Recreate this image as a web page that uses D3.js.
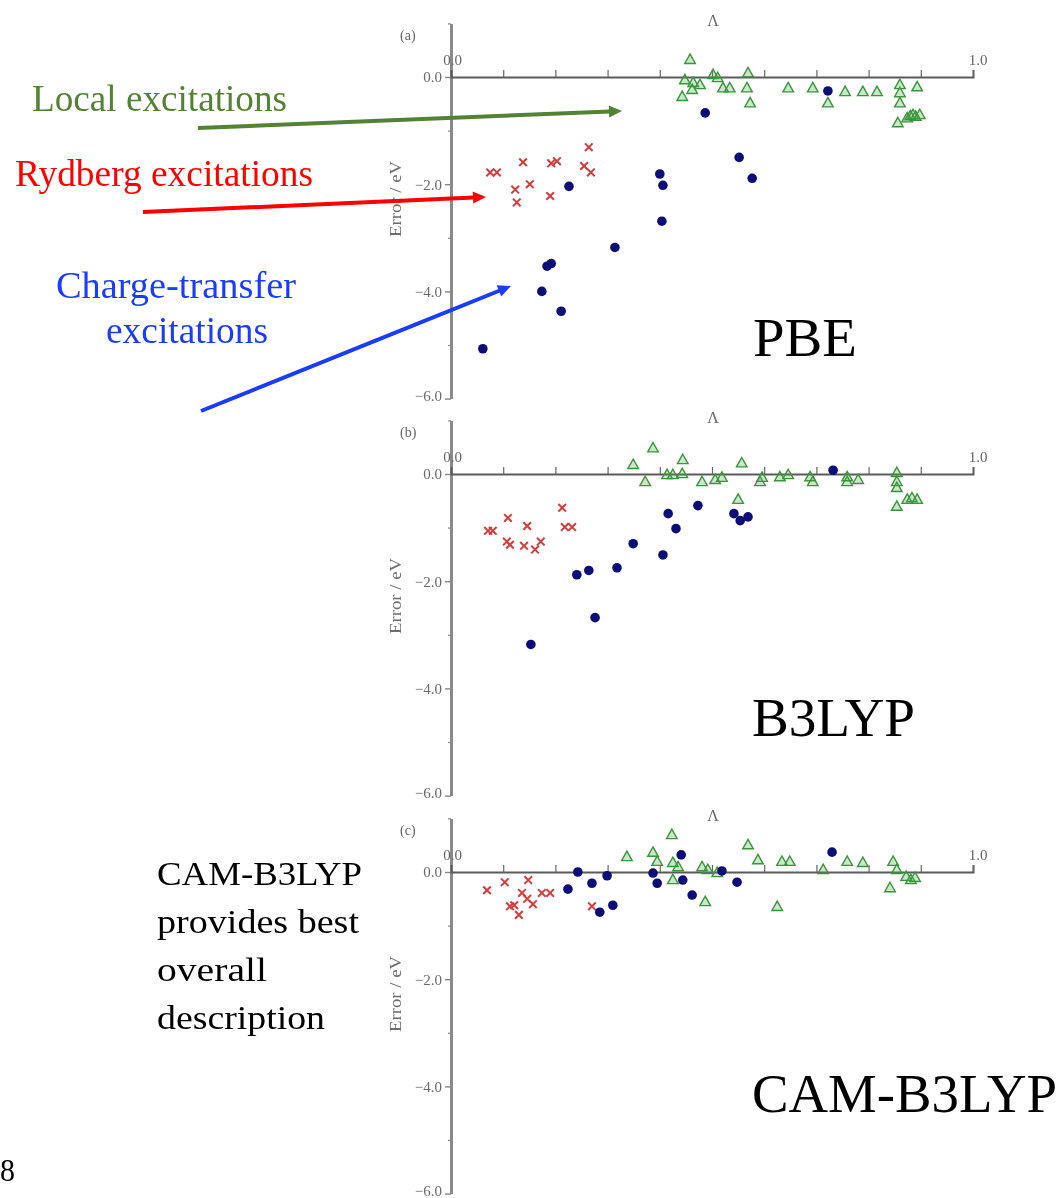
<!DOCTYPE html>
<html>
<head>
<meta charset="utf-8">
<script src="https://cdn.jsdelivr.net/npm/d3@7"></script>
<style>
  html, body { margin: 0; padding: 0; background: #fff; }
  svg { display: block; }
</style>
</head>
<body>
<svg id="chart" width="1059" height="1198"></svg>
<script>
// Error of excitation energies (eV) against the Λ overlap diagnostic,
// for three functionals; each point is one excitation.

const panelTags = ["(a)", "(b)", "(c)"];
const functionals = ["PBE", "B3LYP", "CAM-B3LYP"];
const xAxisTitle = "Λ";
const yAxisTitle = "Error / eV";
const xEndLabels = ["0.0", "1.0"];
const xTickValues = [0.1, 0.2, 0.3, 0.4, 0.5, 0.6, 0.7, 0.8, 0.9, 1.0];
const yTickValues = [0, -2, -4, -6];
const yTickLabels = ["0.0", "−2.0", "−4.0", "−6.0"];
const yMinorTicks = [1, -1, -3, -5];

// [Λ, error / eV]
const pbeLocal = [[0.458,0.32],[0.448,-0.06],[0.464,-0.11],[0.443,-0.37],[0.462,-0.24],[0.477,-0.15],
  [0.502,0.04],[0.511,-0.02],[0.521,-0.21],[0.534,-0.21],[0.569,0.07],[0.567,-0.21],[0.573,-0.49],
  [0.646,-0.21],[0.693,-0.21],[0.722,-0.49],[0.755,-0.28],[0.789,-0.28],[0.816,-0.28],[0.860,-0.15],
  [0.860,-0.30],[0.860,-0.49],[0.893,-0.19],[0.885,-0.71],[0.874,-0.77],[0.856,-0.86],[0.898,-0.71],
  [0.890,-0.74],[0.880,-0.73]];
const pbeRydberg = [[0.075,-1.78],[0.088,-1.78],[0.138,-1.59],[0.123,-2.10],[0.126,-2.34],[0.151,-2.00],
  [0.190,-2.22],[0.192,-1.61],[0.203,-1.57],[0.264,-1.31],[0.255,-1.66],[0.268,-1.78]];
const pbeChargeTransfer = [[0.061,-5.07],[0.174,-4.00],[0.211,-4.37],[0.184,-3.53],[0.192,-3.48],
  [0.226,-2.04],[0.314,-3.18],[0.400,-1.81],[0.406,-2.02],[0.404,-2.69],[0.487,-0.67],[0.552,-1.50],
  [0.577,-1.89],[0.722,-0.26]];

const b3lypLocal = [[0.349,0.17],[0.387,0.48],[0.372,-0.15],[0.444,0.26],[0.414,-0.02],[0.425,-0.02],
  [0.443,0.0],[0.481,-0.15],[0.506,-0.11],[0.519,-0.07],[0.557,0.20],[0.550,-0.48],[0.592,-0.15],
  [0.596,-0.07],[0.630,-0.06],[0.646,-0.02],[0.688,-0.06],[0.693,-0.15],[0.759,-0.15],[0.759,-0.06],
  [0.780,-0.11],[0.854,0.02],[0.854,-0.15],[0.854,-0.26],[0.854,-0.61],[0.874,-0.48],[0.883,-0.45],
  [0.893,-0.48]];
const b3lypRydberg = [[0.071,-1.06],[0.080,-1.06],[0.109,-0.82],[0.107,-1.26],[0.113,-1.32],[0.146,-0.97],
  [0.140,-1.34],[0.161,-1.41],[0.172,-1.26],[0.213,-0.63],[0.218,-0.99],[0.232,-0.99]];
const b3lypChargeTransfer = [[0.153,-3.18],[0.241,-1.88],[0.264,-1.80],[0.276,-2.68],[0.318,-1.75],
  [0.349,-1.30],[0.406,-1.51],[0.416,-0.74],[0.431,-1.02],[0.473,-0.59],[0.542,-0.74],[0.554,-0.87],
  [0.569,-0.80],[0.732,0.07]];

const camLocal = [[0.337,0.28],[0.387,0.36],[0.395,0.19],[0.423,0.69],[0.425,0.17],[0.435,0.09],
  [0.425,-0.15],[0.481,0.09],[0.492,0.04],[0.487,-0.56],[0.510,-0.02],[0.569,0.50],[0.588,0.22],
  [0.625,-0.65],[0.634,0.19],[0.649,0.19],[0.713,0.04],[0.759,0.19],[0.789,0.17],[0.847,0.19],
  [0.854,0.04],[0.841,-0.30],[0.872,-0.09],[0.881,-0.15],[0.889,-0.11]];
const camRydberg = [[0.069,-0.34],[0.103,-0.19],[0.148,-0.15],[0.136,-0.39],[0.146,-0.50],[0.113,-0.64],
  [0.121,-0.62],[0.130,-0.80],[0.157,-0.60],[0.174,-0.39],[0.190,-0.39],[0.270,-0.64]];
const camChargeTransfer = [[0.224,-0.32],[0.243,0.0],[0.270,-0.21],[0.285,-0.75],[0.299,-0.07],
  [0.310,-0.62],[0.387,-0.02],[0.395,-0.21],[0.441,0.32],[0.444,-0.15],[0.462,-0.43],[0.519,0.02],
  [0.548,-0.19],[0.730,0.37]];

const panelSeries = [
  { local: pbeLocal, rydberg: pbeRydberg, ct: pbeChargeTransfer },
  { local: b3lypLocal, rydberg: b3lypRydberg, ct: b3lypChargeTransfer },
  { local: camLocal, rydberg: camRydberg, ct: camChargeTransfer }
];

// ---- layout ----
const svg = d3.select("#chart");
const zeroY = [77, 474, 872];
const pxPerEV = 53.6;
const x = d3.scaleLinear().domain([0, 1]).range([451, 973]);

const defs = svg.append("defs");
defs.append("filter").attr("id", "soft")
  .append("feGaussianBlur").attr("stdDeviation", 0.65);

const axisGrey = "#666";
const serif = "'Liberation Serif', 'DejaVu Serif', serif";

panelSeries.forEach((series, i) => {
  const z = zeroY[i];
  const y = d3.scaleLinear().domain([1, -6]).range([z - pxPerEV, z + 6 * pxPerEV]);
  const g = svg.append("g").attr("filter", "url(#soft)");

  // y axis: major ticks with labels, minor ticks without
  const yMajor = g.append("g").attr("transform", `translate(${x(0)},0)`)
    .call(d3.axisLeft(y).tickValues(yTickValues).tickSize(6).tickSizeOuter(0).tickPadding(3)
      .tickFormat((d, k) => yTickLabels[k]));
  yMajor.select(".domain").attr("stroke", "#8a8a8a").attr("stroke-width", 3);
  yMajor.selectAll(".tick line").attr("stroke", "#888").attr("stroke-width", 1.4);
  yMajor.selectAll(".tick text").attr("fill", "#6a6a6a").attr("font-family", serif)
    .attr("font-size", 15);
  // keep the lowest label inside the page
  yMajor.selectAll(".tick text").filter(d => d === -6).attr("dy", "0.1em");

  const yMinor = g.append("g").attr("transform", `translate(${x(0)},0)`)
    .call(d3.axisLeft(y).tickValues(yMinorTicks).tickSize(3).tickFormat(""));
  yMinor.select(".domain").remove();
  yMinor.selectAll(".tick line").attr("stroke", "#888").attr("stroke-width", 1.2);

  // x axis along the zero line, ticks pointing up
  const xAx = g.append("g").attr("transform", `translate(0,${y(0)})`)
    .call(d3.axisTop(x).tickValues(xTickValues).tickSize(7).tickSizeOuter(7).tickFormat(""));
  xAx.select(".domain").attr("stroke", "#5a5a5a").attr("stroke-width", 2);
  xAx.selectAll(".tick line").attr("stroke", "#666").attr("stroke-width", 1.2);

  // end labels of the Λ axis
  g.append("text").attr("x", x(0) + 1.5).attr("y", y(0) - 12)
    .attr("text-anchor", "middle").attr("font-family", serif).attr("font-size", 15)
    .attr("fill", axisGrey).text(xEndLabels[0]);
  g.append("text").attr("x", x(1) + 5).attr("y", y(0) - 12)
    .attr("text-anchor", "middle").attr("font-family", serif).attr("font-size", 15)
    .attr("fill", axisGrey).text(xEndLabels[1]);

  // axis titles and panel tag
  g.append("text").attr("x", 713).attr("y", y(0) - 51)
    .attr("text-anchor", "middle").attr("font-family", serif).attr("font-size", 16)
    .attr("fill", axisGrey).text(xAxisTitle);
  g.append("text").attr("x", 400).attr("y", y(0) - 37)
    .attr("font-family", serif).attr("font-size", 14).attr("fill", axisGrey)
    .text(panelTags[i]);
  g.append("text")
    .attr("transform", `translate(401,${y(0) + 122}) rotate(-90)`)
    .attr("text-anchor", "middle").attr("font-family", serif).attr("font-size", 16)
    .attr("textLength", 76).attr("lengthAdjust", "spacingAndGlyphs")
    .attr("fill", "#6e6e6e").text(yAxisTitle);

  // local excitations: open triangles
  g.append("g").selectAll("path").data(series.local).join("path")
    .attr("transform", d => `translate(${x(d[0])},${y(d[1])})`)
    .attr("d", "M0,-5.8L5.3,3.6L-5.3,3.6Z")
    .attr("fill", "rgba(70,170,70,0.28)")
    .attr("stroke", "#3b943b").attr("stroke-width", 1.4);

  // Rydberg excitations: crosses
  g.append("g").selectAll("path").data(series.rydberg).join("path")
    .attr("transform", d => `translate(${x(d[0])},${y(d[1])})`)
    .attr("d", "M-3.8,-3.8L3.8,3.8M-3.8,3.8L3.8,-3.8")
    .attr("fill", "none")
    .attr("stroke", "#d43c3c").attr("stroke-width", 2);

  // charge-transfer excitations: filled dots
  g.append("g").selectAll("circle").data(series.ct).join("circle")
    .attr("cx", d => x(d[0])).attr("cy", d => y(d[1]))
    .attr("r", 4.8).attr("fill", "#0d0d78");
});

// ---- slide annotations ----
const annotations = [
  { text: "Local excitations", x: 32, y: 111, size: 37, len: 255, color: "#548235" },
  { text: "Rydberg excitations", x: 15, y: 186, size: 37, len: 298, color: "#ff0000" },
  { text: "Charge-transfer", x: 56, y: 298, size: 37, len: 240, color: "#1a3cff" },
  { text: "excitations", x: 106, y: 343, size: 37, len: 162, color: "#1a3cff" },
  { text: functionals[0], x: 753, y: 356, size: 55, len: 104, color: "#000" },
  { text: functionals[1], x: 752, y: 736, size: 55, len: 163, color: "#000" },
  { text: functionals[2], x: 752, y: 1112, size: 55, len: 305, color: "#000" },
  { text: "CAM-B3LYP", x: 157, y: 885, size: 33, len: 205, color: "#000" },
  { text: "provides best", x: 157, y: 933, size: 33, len: 202, color: "#000" },
  { text: "overall", x: 157, y: 981, size: 33, len: 110, color: "#000" },
  { text: "description", x: 157, y: 1029, size: 33, len: 168, color: "#000" },
  { text: "8", x: 0, y: 1181, size: 32, len: 15, color: "#000" }
];
svg.append("g").selectAll("text").data(annotations).join("text")
  .attr("x", d => d.x).attr("y", d => d.y)
  .attr("font-family", serif).attr("font-size", d => d.size)
  .attr("textLength", d => d.len).attr("lengthAdjust", "spacingAndGlyphs")
  .attr("fill", d => d.color).text(d => d.text);

// arrows from the labels into the point clouds
const arrows = [
  { from: [198, 128], to: [622, 111], color: "#538135" },
  { from: [143, 212], to: [486, 197], color: "#ff0000" },
  { from: [201, 411], to: [511, 286], color: "#1a3cff" }
];
const headLen = 13, headHalf = 6;
const arrowG = svg.append("g");
arrows.forEach(a => {
  const dx = a.to[0] - a.from[0], dy = a.to[1] - a.from[1];
  const L = Math.hypot(dx, dy), ux = dx / L, uy = dy / L;
  const bx = a.to[0] - ux * headLen, by = a.to[1] - uy * headLen;
  arrowG.append("line")
    .attr("x1", a.from[0]).attr("y1", a.from[1]).attr("x2", bx + ux).attr("y2", by + uy)
    .attr("stroke", a.color).attr("stroke-width", 4);
  arrowG.append("path")
    .attr("d", `M${a.to[0]},${a.to[1]}L${bx - uy * headHalf},${by + ux * headHalf}` +
               `L${bx + uy * headHalf},${by - ux * headHalf}Z`)
    .attr("fill", a.color);
});
</script>
</body>
</html>
